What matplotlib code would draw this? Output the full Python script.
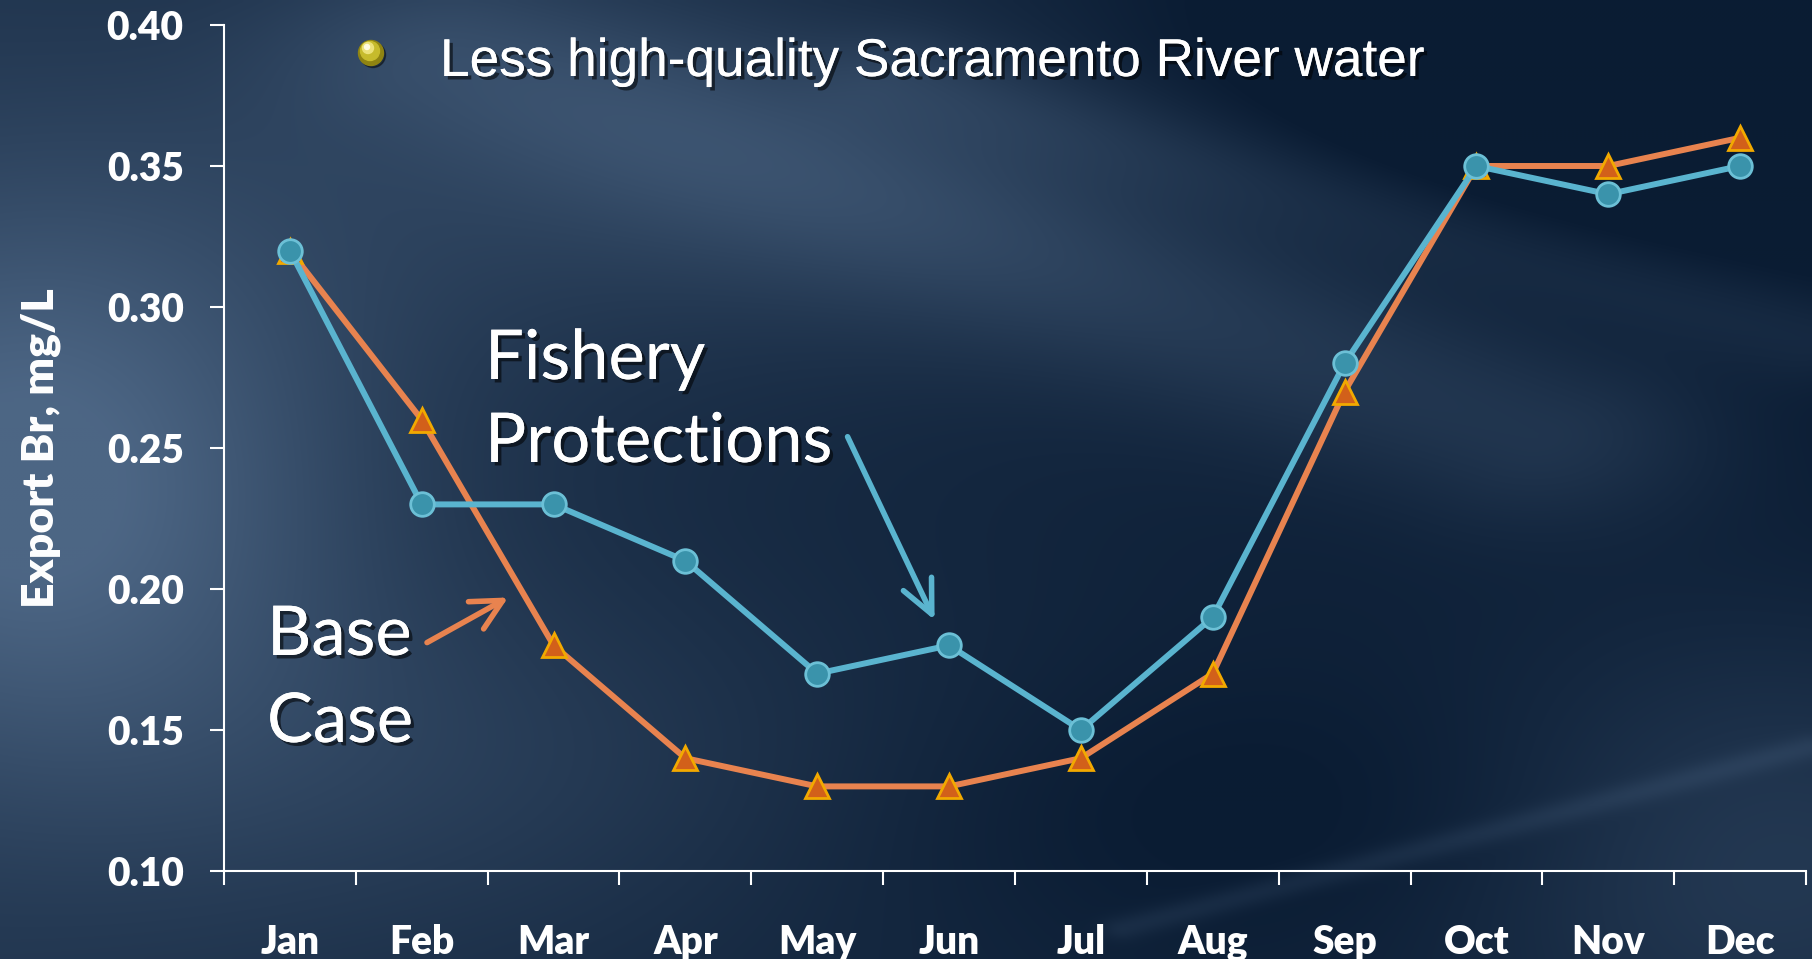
import numpy as np
import matplotlib
matplotlib.use("Agg")
import matplotlib.pyplot as plt
from matplotlib import patheffects as pe
from matplotlib.patches import Circle

# ---------------- data ----------------
months = ["Jan", "Feb", "Mar", "Apr", "May", "Jun", "Jul", "Aug", "Sep", "Oct", "Nov", "Dec"]
base_case = [0.32, 0.26, 0.18, 0.14, 0.13, 0.13, 0.14, 0.17, 0.27, 0.35, 0.35, 0.36]
fishery = [0.32, 0.23, 0.23, 0.21, 0.17, 0.18, 0.15, 0.19, 0.28, 0.35, 0.34, 0.35]
y_ticks = [0.10, 0.15, 0.20, 0.25, 0.30, 0.35, 0.40]
y_label = "Export Br, mg/L"
bullet_text = "Less high-quality Sacramento River water"
fishery_label = ["Fishery", "Protections"]
base_label = ["Base", "Case"]

# ---------------- figure ----------------
W, H = 1812, 959
fig = plt.figure(figsize=(W / 100, H / 100), dpi=100)

# background (decorative gradient)
bg = fig.add_axes([0, 0, 1, 1], zorder=0)
bg.set_xlim(0, W)
bg.set_ylim(H, 0)
bg.axis("off")
ny, nx = 240, 453
yy, xx = np.mgrid[0:1:ny * 1j, 0:1:nx * 1j]


def blob(cx, cy, sx, sy, amp):
    return amp * np.exp(-(((xx - cx) / sx) ** 2 + ((yy - cy) / sy) ** 2))


def streak(x0, y0, x1, y1, w, amp):
    d = np.array([x1 - x0, y1 - y0])
    L = np.hypot(*d)
    d = d / L
    px, py = xx - x0, yy - y0
    t = np.clip(px * d[0] + py * d[1], 0, L)
    dist = np.hypot(px - t * d[0], py - t * d[1])
    return amp * np.exp(-(dist / w) ** 2)


v = 0.30 * (1 - xx) ** 1.2
v += blob(0.02, 0.50, 0.18, 0.30, 0.75)
v += blob(0.40, 0.18, 0.30, 0.20, 0.30)
v += blob(0.25, 0.80, 0.25, 0.20, 0.22)
v += blob(0.98, 0.90, 0.18, 0.25, 0.40)
v += streak(0.25, 0.05, 0.85, 0.45, 0.10, 0.30)
v += streak(0.50, 0.08, 1.00, 0.35, 0.05, 0.18)
v += streak(0.62, 0.97, 1.00, 0.78, 0.012, 0.18)
v -= blob(0.82, 0.08, 0.25, 0.20, 0.25)
v -= blob(0.70, 0.85, 0.25, 0.15, 0.12)
v = np.clip(v, 0, 1)
dark = np.array([0.04, 0.11, 0.20])
light = np.array([0.30, 0.40, 0.52])
img = dark + v[..., None] * (light - dark)
bg.imshow(img, extent=(0, W, H, 0), aspect="auto", interpolation="bilinear")

# main axes
ax = fig.add_axes([224 / W, 1 - 871 / H, (1806 - 224) / W, (871 - 25) / H], zorder=2)
ax.patch.set_alpha(0)
x = np.arange(len(months))

blue_line = "#5ab4cf"
orange_line = "#e8834f"
ax.plot(x, base_case, color=orange_line, lw=4.3, marker="^", ms=17,
        mfc="#d2601a", mec="#f2a900", mew=2, zorder=3)
ax.plot(x, fishery, color=blue_line, lw=4.3, marker="o", ms=17,
        mfc="#3a93ab", mec="#6cc0d6", mew=2, zorder=4)

ax.set_xlim(-0.5, len(months) - 0.5)
ax.set_ylim(0.10, 0.40)
ax.set_yticks(y_ticks)
ax.set_yticklabels([f"{t:.2f}" for t in y_ticks])
ax.set_xticks(np.arange(-0.5, len(months), 1.0))
ax.set_xticklabels([])
ax.set_xticks(x, minor=True)
ax.set_xticklabels(months, minor=True)

for s in ["top", "right"]:
    ax.spines[s].set_visible(False)
for s in ["left", "bottom"]:
    ax.spines[s].set_color("white")
    ax.spines[s].set_linewidth(1.5)

ax.tick_params(axis="y", which="major", direction="out", length=10, width=1.5,
               color="white", pad=19)
ax.tick_params(axis="x", which="major", direction="out", length=10, width=1.5,
               color="white")
ax.tick_params(axis="x", which="minor", length=0, pad=38)
for lab in ax.get_yticklabels() + ax.get_xticklabels(minor=True):
    lab.set_family(["Lato", "DejaVu Sans"])
    lab.set_weight("heavy")
    lab.set_size(28)
    lab.set_color("white")

ax.set_ylabel(y_label, family=["Lato", "DejaVu Sans"], weight="heavy", size=32,
              color="white")
ax.yaxis.set_label_coords(-0.103, 0.5)

shadow = [pe.withSimplePatchShadow(offset=(2.5, -2.5), shadow_rgbFace="black", alpha=0.55),
          pe.Normal()]

# bullet + header text
fig.text(440 / W, 1 - 76 / H, bullet_text, family=["Liberation Sans", "DejaVu Sans"],
         size=38.3, color="white", ha="left", va="baseline", path_effects=shadow, zorder=5)
bg.add_patch(Circle((373, 55), 12.5, color="black", alpha=0.4, zorder=2))
bg.add_patch(Circle((371, 53), 12.5, color="#8f8412", zorder=3))
bg.add_patch(Circle((370, 51), 9.5, color="#c6bb2c", zorder=4))
bg.add_patch(Circle((368, 48), 5.5, color="#ece27a", zorder=5))
bg.add_patch(Circle((367, 47), 2.5, color="#fffbe0", zorder=6))

# annotation texts
ann_font = dict(family=["Lato", "DejaVu Sans"], size=49.5, color="white",
                ha="left", va="baseline", path_effects=shadow, zorder=5)
fig.text(485 / W, 1 - 379 / H, fishery_label[0], **ann_font)
fig.text(485 / W, 1 - 462 / H, fishery_label[1], **ann_font)
fig.text(267 / W, 1 - 655 / H, base_label[0], **ann_font)
fig.text(267 / W, 1 - 742 / H, base_label[1], **ann_font)

# arrows
ax.annotate("", xy=(4.89, 0.189), xytext=(4.23, 0.254),
            arrowprops=dict(arrowstyle="->,head_length=0.6,head_width=0.28",
                            color=blue_line, lw=4, mutation_scale=40,
                            shrinkA=0, shrinkB=0), zorder=5)
ax.annotate("", xy=(1.655, 0.197), xytext=(1.04, 0.181),
            arrowprops=dict(arrowstyle="->,head_length=0.55,head_width=0.28",
                            color=orange_line, lw=4, mutation_scale=40,
                            shrinkA=0, shrinkB=0), zorder=5)

fig.savefig("out.png", dpi=100)
